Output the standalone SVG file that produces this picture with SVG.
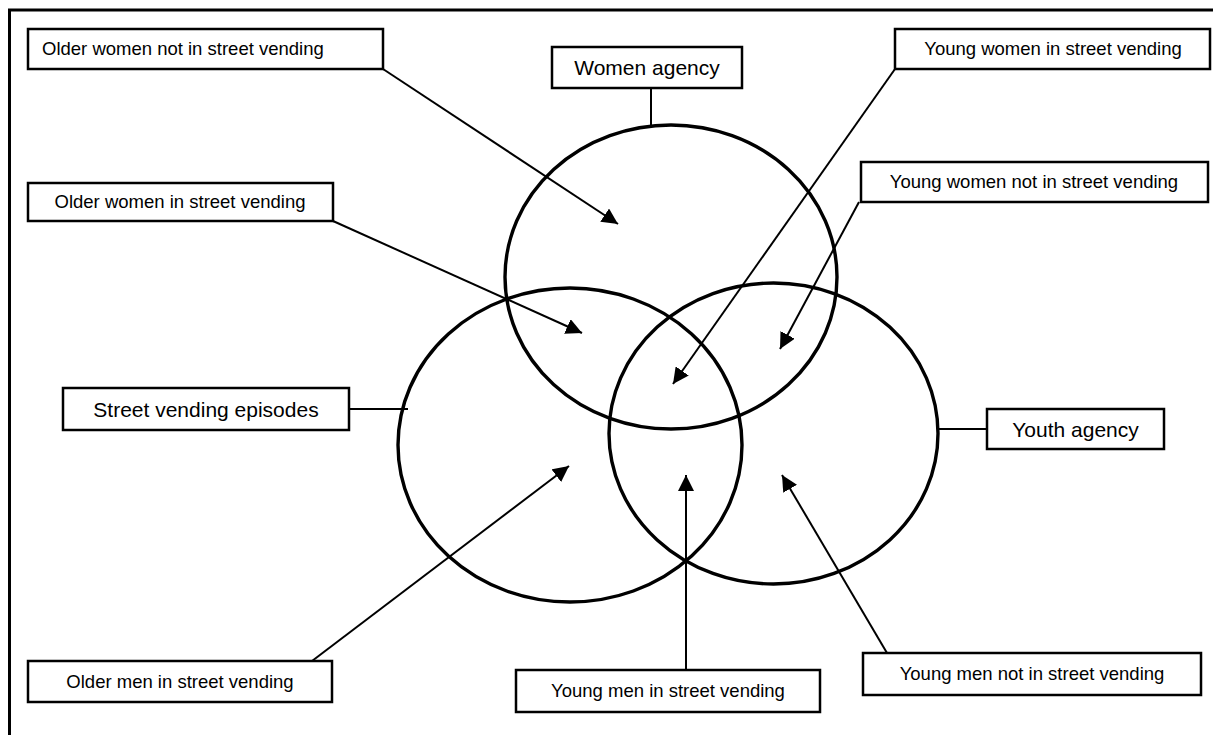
<svg xmlns="http://www.w3.org/2000/svg" width="1213" height="735" viewBox="0 0 1213 735">
<defs>
<style>
.box{fill:#fff;stroke:#000;stroke-width:2.5}
.t{font-family:"Liberation Sans",Arial,sans-serif;font-size:18.5px;fill:#000}
.tb{font-family:"Liberation Sans",Arial,sans-serif;font-size:21px;fill:#000}
.c{text-anchor:middle}
.set{fill:none;stroke:#000;stroke-width:3.4}
.ln{fill:none;stroke:#000;stroke-width:2}
.ar{fill:none;stroke:#000;stroke-width:2;marker-end:url(#ah)}
</style>
<marker id="ah" markerUnits="userSpaceOnUse" markerWidth="18" markerHeight="16" refX="16" refY="8" orient="auto" viewBox="0 0 18 16">
<path d="M0,0 L16,8 L0,16 z" fill="#000"/>
</marker>
</defs>
<rect width="1213" height="735" fill="#fff"/>
<path d="M9.5,735 V10 H1213" fill="none" stroke="#000" stroke-width="3"/>

<g id="sets">
<ellipse id="women-agency-set" class="set" cx="671" cy="277" rx="166" ry="152"/>
<ellipse id="street-vending-set" class="set" cx="570" cy="445" rx="172" ry="157"/>
<ellipse id="youth-agency-set" class="set" cx="773.5" cy="433.5" rx="164.5" ry="150.5"/>
</g>

<g id="connectors">
<line class="ln" x1="651" y1="88" x2="651" y2="125"/>
<line class="ln" x1="349" y1="409" x2="408" y2="409"/>
<line class="ln" x1="938" y1="429" x2="987" y2="429"/>
<line class="ar" x1="383" y1="69" x2="618" y2="224"/>
<line class="ar" x1="333" y1="221" x2="582" y2="333"/>
<line class="ar" x1="895" y1="69" x2="673" y2="384"/>
<line class="ar" x1="859" y1="202" x2="780" y2="349"/>
<line class="ar" x1="312" y1="661" x2="569" y2="466"/>
<line class="ar" x1="686" y1="670" x2="686" y2="475"/>
<line class="ar" x1="887" y1="653" x2="782" y2="475"/>
</g>

<g id="older-women-not">
<rect class="box" x="28" y="29" width="355" height="40"/>
<text class="t" x="42" y="55">Older women not in street vending</text>
</g>
<g id="women-agency">
<rect class="box" x="552" y="47" width="190" height="41"/>
<text class="tb c" x="647" y="75">Women agency</text>
</g>
<g id="young-women-in">
<rect class="box" x="895" y="29" width="315" height="40"/>
<text class="t c" x="1053" y="55">Young women in street vending</text>
</g>
<g id="older-women-in">
<rect class="box" x="28" y="183" width="305" height="38"/>
<text class="t c" x="180" y="208">Older women in street vending</text>
</g>
<g id="young-women-not">
<rect class="box" x="861" y="162" width="347" height="40"/>
<text class="t c" x="1034" y="188">Young women not in street vending</text>
</g>
<g id="street-vending-episodes">
<rect class="box" x="63" y="388" width="286" height="42"/>
<text class="tb c" x="206" y="417">Street vending episodes</text>
</g>
<g id="youth-agency">
<rect class="box" x="987" y="409" width="177" height="40"/>
<text class="tb c" x="1075.5" y="437">Youth agency</text>
</g>
<g id="older-men-in">
<rect class="box" x="28" y="661" width="304" height="41"/>
<text class="t c" x="180" y="688">Older men in street vending</text>
</g>
<g id="young-men-in">
<rect class="box" x="516" y="670" width="304" height="42"/>
<text class="t c" x="668" y="697">Young men in street vending</text>
</g>
<g id="young-men-not">
<rect class="box" x="863" y="653" width="338" height="42"/>
<text class="t c" x="1032" y="680">Young men not in street vending</text>
</g>
</svg>
